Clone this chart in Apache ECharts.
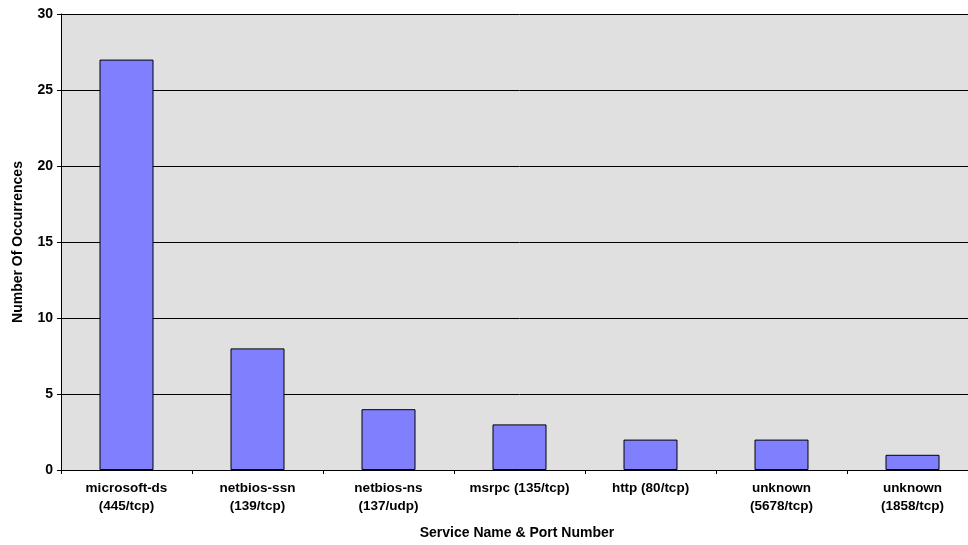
<!DOCTYPE html>
<html>
<head>
<meta charset="utf-8">
<script src="https://cdn.jsdelivr.net/npm/echarts@6/dist/echarts.min.js"></script>
<style>
  html, body { margin: 0; padding: 0; background: #ffffff; overflow: hidden; }
  /* the plot runs slightly past the right edge of the window */
  #chart { width: 978px; height: 545px; }
</style>
</head>
<body>
<div id="chart"></div>
<script>
// Services seen and how many times each occurred
var services = [
  'microsoft-ds\n(445/tcp)',
  'netbios-ssn\n(139/tcp)',
  'netbios-ns\n(137/udp)',
  'msrpc (135/tcp)',
  'http (80/tcp)',
  'unknown\n(5678/tcp)',
  'unknown\n(1858/tcp)'
];
var occurrences = [27, 8, 4, 3, 2, 2, 1];

var chart = echarts.init(document.getElementById('chart'));
var labelFont = 'Liberation Sans, Arial, sans-serif';

chart.setOption({
  animation: false,
  grid: {
    left: 61, right: 0, top: 14, bottom: 74,
    show: true, backgroundColor: '#e0e0e0', borderWidth: 0
  },
  xAxis: {
    type: 'category',
    data: services,
    name: 'Service Name & Port Number',
    nameLocation: 'middle',
    nameGap: 56,
    nameTextStyle: { fontFamily: labelFont, fontWeight: 'bold', fontSize: 14, color: '#000', padding: [0, 5, 0, 0] },
    axisLine: { lineStyle: { color: '#000', width: 1 } },
    axisTick: { show: true, length: 4, lineStyle: { color: '#000' } },
    axisLabel: {
      interval: 0, margin: 9,
      fontFamily: labelFont, fontWeight: 'bold', fontSize: 13.5, color: '#000', lineHeight: 18
    }
  },
  yAxis: {
    type: 'value',
    min: 0, max: 30, interval: 5,
    name: 'Number Of Occurrences',
    nameLocation: 'middle',
    nameGap: 36,
    nameTextStyle: { fontFamily: labelFont, fontWeight: 'bold', fontSize: 14, color: '#000' },
    axisLine: { show: true, lineStyle: { color: '#000', width: 1 } },
    axisTick: { show: true, length: 4, lineStyle: { color: '#000' } },
    axisLabel: { margin: 8, fontFamily: labelFont, fontWeight: 'bold', fontSize: 14, color: '#000' },
    splitLine: { show: true, lineStyle: { color: '#000', width: 1 } }
  },
  series: [{
    type: 'bar',
    data: occurrences,
    barWidth: 54,
    itemStyle: { color: '#8080ff', borderColor: '#000', borderWidth: 1 }
  }]
});
</script>
</body>
</html>
